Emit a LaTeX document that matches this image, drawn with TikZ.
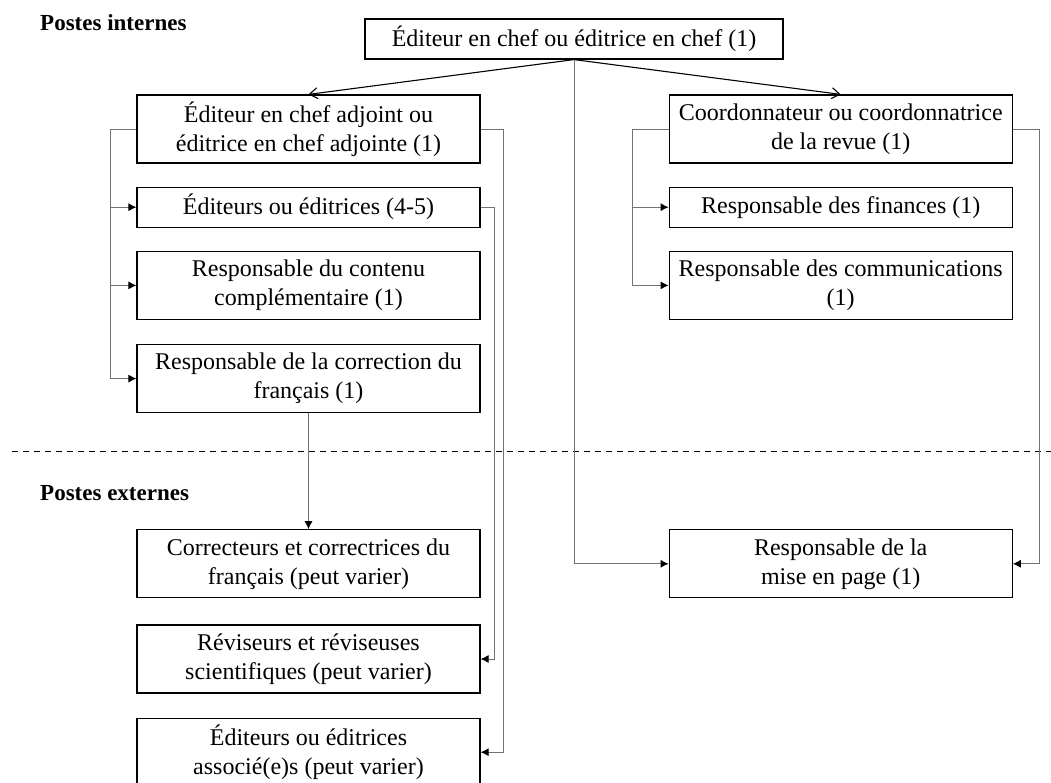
\documentclass[tikz,border=0pt]{standalone}
\usepackage{fontspec}
\setmainfont{Liberation Serif}
\usetikzlibrary{positioning,arrows.meta,calc}

\begin{document}
\begin{tikzpicture}[x=1pt,y=-1pt,
  box/.style={draw,line width=1.2pt,align=center,inner sep=0pt,minimum width=343pt,minimum height=68pt,font=\fontsize{24}{29}\selectfont},
  slim/.style={box,minimum height=40pt},
  link/.style={draw=black!55,line width=0.9pt,-{Latex[length=8pt,width=8pt,black]}},
  split/.style={line width=1.1pt,-{Straight Barb[length=8pt,width=11pt]}},
  head/.style={font=\fontsize{23}{28}\bfseries\selectfont,anchor=west,inner sep=0pt}]
\clip (0,0) rectangle (1051,783);
\fill[white] (0,0) rectangle (1051,783);
\node[head] (intern) at (40,23) {Postes internes};
\node[head] (extern) at (40,493) {Postes externes};
\node[slim,minimum width=418pt] (chef) at (574,39) {Éditeur en chef ou éditrice en chef (1)};
\node[box] (adj) at (308.5,129) {Éditeur en chef adjoint ou\\éditrice en chef adjointe (1)};
\node[slim] (edit) [below=23pt of adj] {Éditeurs ou éditrices (4-5)};
\node[box] (cont) [below=23pt of edit] {Responsable du contenu\\complémentaire (1)};
\node[box] (corr) [below=24pt of cont] {Responsable de la correction du\\français (1)};
\node[box] (coord) [right=188pt of adj] {Coordonnateur ou coordonnatrice\\de la revue (1)};
\node[slim] (fin) [right=188pt of edit] {Responsable des finances (1)};
\node[box] (comm) [right=188pt of cont] {Responsable des communications\\(1)};
\node[box] (correct) [below=116pt of corr] {Correcteurs et correctrices du\\français (peut varier)};
\node[box] (mise) [right=188pt of correct] {Responsable de la\\mise en page (1)};
\node[box] (rev) [below=26pt of correct] {Réviseurs et réviseuses\\scientifiques (peut varier)};
\node[box] (assoc) [below=24pt of rev] {Éditeurs ou éditrices\\associé(e)s (peut varier)};
% internal / external split
\draw[dashed,dash pattern=on 6pt off 5pt,line width=1pt] (12,451) -- (1051,451);
\draw[split] (chef.south) -- (adj.north);
\draw[split] (chef.south) -- (coord.north);
\draw[link] (chef.south) |- (mise.west);
\draw[link] (adj.west) -- ++(-26,0) |- (edit.west);
\draw[link] (adj.west) -- ++(-26,0) |- (cont.west);
\draw[link] (adj.west) -- ++(-26,0) |- (corr.west);
\draw[link] (adj.east) -- ++(23,0) |- (assoc.east);
\draw[link] (edit.east) -- ++(14,0) |- (rev.east);
\draw[link] (corr.south) -- (correct.north);
\draw[link] (coord.west) -- ++(-36,0) |- (fin.west);
\draw[link] (coord.west) -- ++(-36,0) |- (comm.west);
\draw[link] (coord.east) -- ++(27,0) |- (mise.east);
\end{tikzpicture}
\end{document}
